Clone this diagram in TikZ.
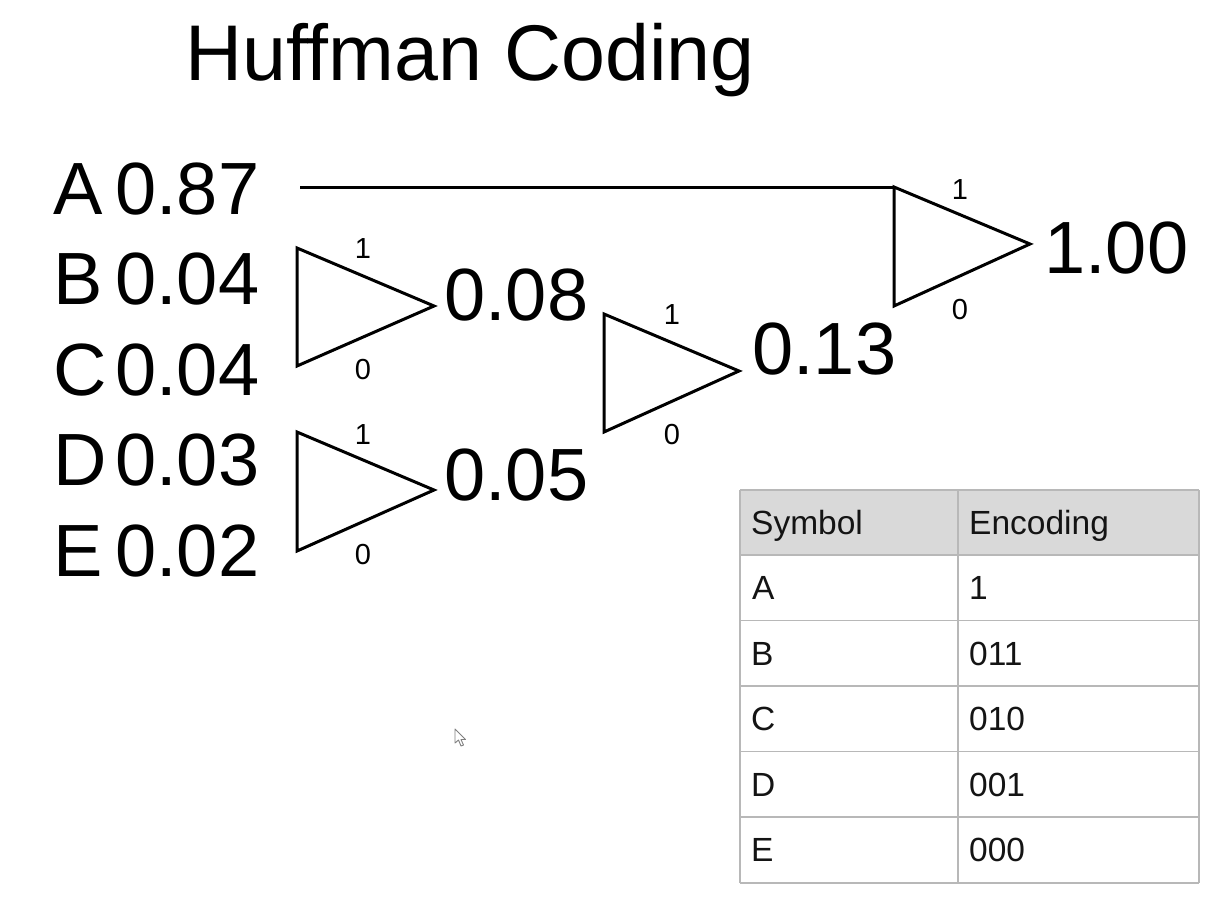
\documentclass[tikz,border=0pt]{standalone}
\usepackage{fontspec}
\setmainfont{Liberation Sans}
\begin{document}
\begin{tikzpicture}[x=1pt,y=-1pt,
  title/.style={font=\fontsize{79}{86}\selectfont, inner sep=0, anchor=base west},
  big/.style={font=\fontsize{74}{80}\selectfont, inner sep=0, anchor=base west},
  bit/.style={font=\fontsize{29}{32}\selectfont, inner sep=0},
  cell/.style={font=\fontsize{33.5}{36}\selectfont, inner sep=0, anchor=base west, text=black!92},
  gate/.style={line width=3pt, line join=miter},
  tgrid/.style={draw=black!28, line width=1.4pt}]
\fill[white] (0,0) rectangle (1217,900);
\path[use as bounding box] (0,0) rectangle (1217,900);

% title
\node[title] (ttl) at (185,80) {Huffman Coding};

% symbols and probabilities
\node[big] (lA) at (53,214) {A};
\node[big] (lB) at (53,304.5) {B};
\node[big] (lC) at (53,395) {C};
\node[big] (lD) at (53,485.5) {D};
\node[big] (lE) at (53,576) {E};
\node[big] (pA) at (115,214) {0.87};
\node[big] (pB) at (115,304.5) {0.04};
\node[big] (pC) at (115,395) {0.04};
\node[big] (pD) at (115,485.5) {0.03};
\node[big] (pE) at (115,576) {0.02};

% merged probabilities
\node[big] (pBC) at (444,320) {0.08};
\node[big] (pDE) at (444,500) {0.05};
\node[big] (pBCDE) at (752,374) {0.13};
\node[big] (pAll) at (1044,273) {1.00};

% gates (triangles)
\coordinate (t1a) at (297,248);
\coordinate (t1b) at (297,366);
\coordinate (t1c) at (434,306);
\coordinate (t2a) at (297,432);
\coordinate (t2b) at (297,551);
\coordinate (t2c) at (434,490);
\coordinate (t3a) at (604,314);
\coordinate (t3b) at (604,432);
\coordinate (t3c) at (739,371);
\coordinate (t4a) at (894,187);
\coordinate (t4b) at (894,306);
\coordinate (t4c) at (1030,244);
\draw[gate] (t1a) -- (t1c) -- (t1b) -- cycle;
\draw[gate] (t2a) -- (t2c) -- (t2b) -- cycle;
\draw[gate] (t3a) -- (t3c) -- (t3b) -- cycle;
\draw[gate] (t4a) -- (t4c) -- (t4b) -- cycle;

% line from A
\coordinate (astart) at (300,187);
\draw[gate] (astart) -- (t4a);

% bit labels
\node[bit] (b1a) at (363,249) {1};
\node[bit] (b1b) at (363,370) {0};
\node[bit] (b2a) at (363,435) {1};
\node[bit] (b2b) at (363,555) {0};
\node[bit] (b3a) at (672,315) {1};
\node[bit] (b3b) at (672,435) {0};
\node[bit] (b4a) at (960,190) {1};
\node[bit] (b4b) at (960,310) {0};

% table
\fill[black!15] (740,490) rectangle (1199,555);
\foreach \yy in {490,555,620.5,686,751.5,817,883}
  \draw[tgrid] (740,\yy) -- (1199,\yy);
\foreach \xx in {740,958,1199}
  \draw[tgrid] (\xx,490) -- (\xx,883);
\node[cell] (hs) at (751,534) {Symbol};
\node[cell] (he) at (969,534) {Encoding};
\node[cell] (sA) at (752,599) {A};
\node[cell] (eA) at (969,599) {1};
\node[cell] (sB) at (751,665) {B};
\node[cell] (eB) at (969,665) {011};
\node[cell] (sC) at (751,730) {C};
\node[cell] (eC) at (969,730) {010};
\node[cell] (sD) at (751,796) {D};
\node[cell] (eD) at (969,796) {001};
\node[cell] (sE) at (751,861) {E};
\node[cell] (eE) at (969,861) {000};

% mouse pointer
\draw[black!50, line width=0.9pt, fill=white, line join=round]
  (455,729) -- (455,743) -- (458.5,740) -- (461,746) -- (463.5,745) -- (461,739.5) -- (465.5,739.5) -- cycle;
\end{tikzpicture}
\end{document}
